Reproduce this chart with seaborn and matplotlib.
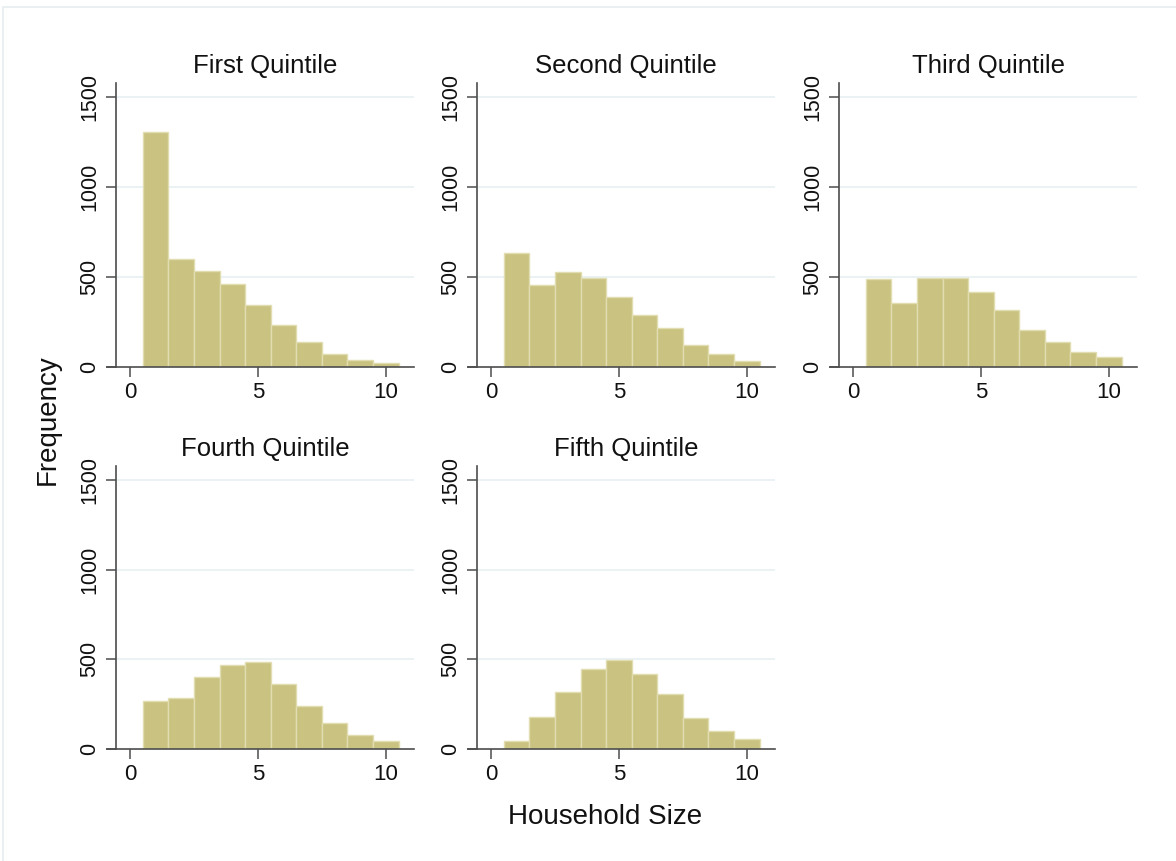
import numpy as np
import pandas as pd
import matplotlib
matplotlib.use("Agg")
import matplotlib.pyplot as plt
import seaborn as sns

sns.set_style("white")
plt.rcParams['font.family'] = ['Liberation Sans', 'DejaVu Sans']

household_size = [1, 2, 3, 4, 5, 6, 7, 8, 9, 10]
quintiles = ["First Quintile", "Second Quintile", "Third Quintile",
             "Fourth Quintile", "Fifth Quintile"]
first_q = [1309, 602, 535, 461, 346, 233, 139, 74, 41, 20]
second_q = [635, 454, 528, 494, 387, 287, 217, 120, 74, 35]
third_q = [489, 354, 496, 496, 417, 317, 207, 141, 81, 56]
fourth_q = [266, 287, 401, 468, 483, 360, 240, 146, 77, 43]
fifth_q = [43, 180, 320, 449, 496, 421, 307, 172, 103, 56]
series = [first_q, second_q, third_q, fourth_q, fifth_q]
y_ticks = [0, 500, 1000, 1500]
x_ticks = [0, 5, 10]

W, H = 1176, 861
fig = plt.figure(figsize=(W / 100, H / 100), dpi=100)
fig.patch.set_facecolor("white")

# light outer frame (top/left visible)
fig.add_artist(plt.Rectangle((3 / W, -0.02), 1.1, 1 - 7 / H + 0.02,
                             transform=fig.transFigure, fill=False,
                             edgecolor="#e6eeef", lw=1.2))

lefts = [107, 468, 830]
width_px = 307
rows = [(83, 367), (466, 749)]

bar_color = "#c9c280"
edge_color = "#e2ddb0"
spine_color = "#4d4d4d"
grid_color = "#e8f1f3"

for i, (name, vals) in enumerate(zip(quintiles, series)):
    r, c = divmod(i, 3)
    top, bot = rows[r]
    ax = fig.add_axes([lefts[c] / W, 1 - bot / H, width_px / W, (bot - top) / H])
    df = pd.DataFrame({"size": household_size, "count": vals})
    for yv in y_ticks[1:]:
        ax.hlines(yv, -0.55, 11.1, color=grid_color, lw=1.3, zorder=0)
    sns.histplot(data=df, x="size", weights="count", discrete=True, ax=ax,
                 color=bar_color, edgecolor=edge_color, linewidth=1.0,
                 alpha=1, zorder=2)
    ax.set_xlim(-0.9, 11.1)
    ax.set_ylim(0, 1579)
    ax.spines['left'].set_position(('data', -0.55))
    ax.spines['left'].set_bounds(0, 1579)
    for s in ['top', 'right']:
        ax.spines[s].set_visible(False)
    for s in ['left', 'bottom']:
        ax.spines[s].set_color(spine_color)
        ax.spines[s].set_linewidth(1.2)
        ax.spines[s].set_zorder(3)
    ax.set_yticks(y_ticks)
    ax.set_xticks(x_ticks)
    ax.set_yticklabels([str(v) for v in y_ticks], rotation=90, va='center')
    ax.tick_params(axis='y', left=True, length=7, width=1.1, color=spine_color,
                   pad=4.5, labelsize=15.5, labelcolor="#111111")
    ax.tick_params(axis='x', bottom=True, length=7, width=1.1, color=spine_color,
                   pad=4, labelsize=16, labelcolor="#111111")
    ax.grid(False)
    ax.set_xlabel("")
    ax.set_ylabel("")
    ax.set_facecolor("none")
    ax.set_title(name, fontsize=18.5, pad=7, color="#111111", x=0.515)

fig.text(48 / W, 1 - 420 / H, "Frequency", rotation=90, fontsize=20,
         ha='center', va='center', color="#111111")
fig.text(605 / W, 1 - 817 / H, "Household Size", fontsize=20,
         ha='center', va='center', color="#111111")

fig.savefig("out.png", dpi=100, facecolor="white")
